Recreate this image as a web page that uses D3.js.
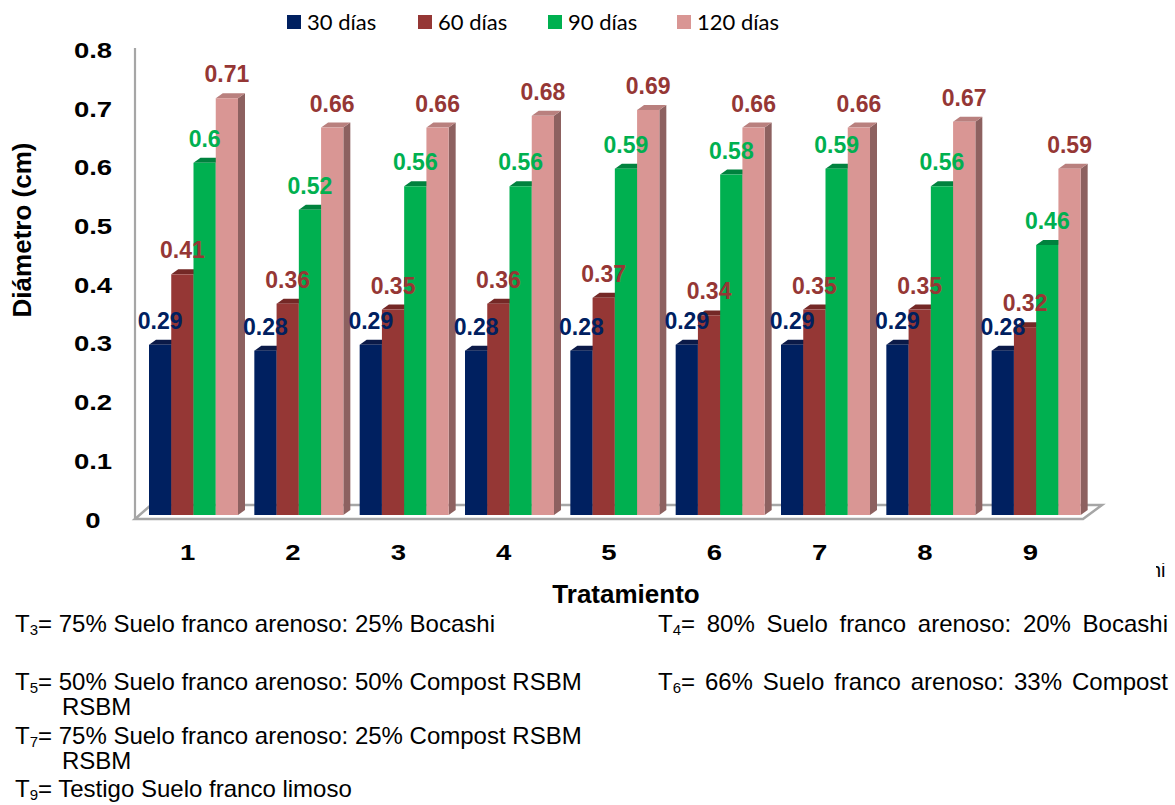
<!DOCTYPE html>
<html>
<head>
<meta charset="utf-8">
<script src="https://cdn.jsdelivr.net/npm/d3@7"></script>
<style>
  body { margin: 0; background: #ffffff; }
  svg { display: block; }
</style>
</head>
<body>
<svg id="chart" width="1175" height="805"></svg>
<script>
// Diámetro por tratamiento y fecha de muestreo
const categories = ["1", "2", "3", "4", "5", "6", "7", "8", "9"];
const seriesNames = ["30 días", "60 días", "90 días", "120 días"];
const dias30  = [0.29, 0.28, 0.29, 0.28, 0.28, 0.29, 0.29, 0.29, 0.28];
const dias60  = [0.41, 0.36, 0.35, 0.36, 0.37, 0.34, 0.35, 0.35, 0.32];
const dias90  = [0.60, 0.52, 0.56, 0.56, 0.59, 0.58, 0.59, 0.56, 0.46];
const dias120 = [0.71, 0.66, 0.66, 0.68, 0.69, 0.66, 0.66, 0.67, 0.59];
const yTicks  = [0, 0.1, 0.2, 0.3, 0.4, 0.5, 0.6, 0.7, 0.8];

// Notas de los tratamientos
const notesLeft = [
  { sub: "3", text: "= 75% Suelo franco arenoso: 25% Bocashi" },
  { sub: "5", text: "= 50% Suelo franco arenoso: 50% Compost RSBM" },
  { sub: null, text: "RSBM" },
  { sub: "7", text: "= 75% Suelo franco arenoso: 25% Compost RSBM" },
  { sub: null, text: "RSBM" },
  { sub: "9", text: "= Testigo Suelo franco limoso" }
];
const notesRight = [
  { sub: "4", text: "= 80% Suelo franco arenoso: 20% Bocashi" },
  { sub: "6", text: "= 66% Suelo franco arenoso: 33% Compost" }
];

const seriesValues = [dias30, dias60, dias90, dias120];
const frontColors = ["#002060", "#953735", "#00b050", "#d99694"];
const topColors   = ["#0b1a48", "#742826", "#00823e", "#b9807e"];
const sideColors  = ["#001240", "#6a2220", "#00763a", "#8d6160"];
const labelColors = ["#002060", "#953735", "#00b050", "#953735"];

const svg = d3.select("#chart");
svg.append("rect").attr("width", 1175).attr("height", 805).attr("fill", "#ffffff");

// Scales
const plotLeft = 135, plotRight = 1083;
const x = d3.scaleBand().domain(categories).range([plotLeft, plotRight]).padding(0);
const xs = d3.scaleBand().domain(seriesNames).range([14, 103]).padding(0);
const y = d3.scaleLinear().domain([0, 0.8]).range([515, 45.4]);

const depthX = 7, depthY = 5;
const floorDX = 16, floorDY = 14;
const floorFront = 519;

// Floor (3D base) and left wall edge
const gray = "#a6a6a6";
svg.append("path")
  .attr("d", `M${plotLeft},${floorFront} L${plotLeft + floorDX},${floorFront - floorDY} ` +
             `L${plotRight + floorDX + 3},${floorFront - floorDY} L${plotRight},${floorFront} Z`)
  .attr("fill", "#ffffff").attr("stroke", gray).attr("stroke-width", 2.5)
  .attr("stroke-linejoin", "miter");
svg.append("line")
  .attr("x1", plotLeft).attr("x2", plotLeft)
  .attr("y1", y(0.8) + 2.6).attr("y2", floorFront)
  .attr("stroke", gray).attr("stroke-width", 2.2);

// Bars with top and side faces
const bars = svg.append("g");
categories.forEach((c, ci) => {
  seriesNames.forEach((s, si) => {
    const v = seriesValues[si][ci];
    const x0 = x(c) + xs(s);
    const x1 = x0 + xs.bandwidth();
    const yt = y(v), yb = y(0);
    const g = bars.append("g");
    g.append("path")
      .attr("d", `M${x1},${yt} L${x1 + depthX},${yt - depthY} L${x1 + depthX},${yb - depthY} L${x1},${yb} Z`)
      .attr("fill", sideColors[si]);
    g.append("path")
      .attr("d", `M${x0},${yt} L${x0 + depthX},${yt - depthY} L${x1 + depthX},${yt - depthY} L${x1},${yt} Z`)
      .attr("fill", topColors[si]);
    g.append("rect")
      .attr("x", x0).attr("y", yt)
      .attr("width", xs.bandwidth()).attr("height", yb - yt)
      .attr("fill", frontColors[si]);
  });
});

// Value labels
const labels = svg.append("g")
  .attr("font-family", "'Liberation Sans', Arial, sans-serif")
  .attr("font-weight", "bold").attr("font-size", 23)
  .attr("text-anchor", "middle");
categories.forEach((c, ci) => {
  seriesNames.forEach((s, si) => {
    const v = seriesValues[si][ci];
    labels.append("text")
      .attr("x", x(c) + xs(s) + xs.bandwidth() / 2)
      .attr("y", y(v) - 16)
      .attr("fill", labelColors[si])
      .text(d3.format("")(+v.toFixed(2)));
  });
});

// Y axis
const yAxis = svg.append("g")
  .attr("transform", "translate(93,0)")
  .call(d3.axisLeft(y).tickValues(yTicks).tickSize(0).tickPadding(0)
    .tickFormat(d => d === 0 ? "0" : d3.format(".1f")(d)));
yAxis.select(".domain").remove();
yAxis.selectAll("text")
  .attr("x", 0).attr("dy", null).attr("y", 12)
  .attr("text-anchor", "middle")
  .attr("transform", "scale(1.25,1)")
  .attr("font-family", "'Liberation Sans', Arial, sans-serif")
  .attr("font-weight", "bold").attr("font-size", 22).attr("fill", "#000");

// X axis
const xAxis = svg.append("g")
  .attr("transform", "translate(0,552)")
  .call(d3.axisBottom(x).tickSize(0).tickPadding(0));
xAxis.select(".domain").remove();
xAxis.selectAll("text")
  .attr("y", 0).attr("dy", "0.36em")
  .attr("transform", "scale(1.25,1)")
  .attr("font-family", "'Liberation Sans', Arial, sans-serif")
  .attr("font-weight", "bold").attr("font-size", 22).attr("fill", "#000");
xAxis.selectAll(".tick").each(function () {
  const t = d3.select(this);
  const tx = +t.attr("transform").match(/translate\(([-\d.]+)/)[1];
  t.attr("transform", `translate(${tx},0)`);
  t.select("text").attr("x", 0);
});

// Axis titles
svg.append("text")
  .attr("x", 626).attr("y", 603)
  .attr("text-anchor", "middle")
  .attr("font-family", "'Liberation Sans', Arial, sans-serif")
  .attr("font-weight", "bold").attr("font-size", 26)
  .text("Tratamiento");
svg.append("text")
  .attr("transform", "translate(31,230) rotate(-90)")
  .attr("text-anchor", "middle")
  .attr("font-family", "'Liberation Sans', Arial, sans-serif")
  .attr("font-weight", "bold").attr("font-size", 26)
  .text("Diámetro (cm)");

// Legend
const legendX = [287, 418, 548, 677];
const legend = svg.append("g")
  .attr("font-family", "Lato, 'Open Sans', sans-serif").attr("font-size", 22);
seriesNames.forEach((s, si) => {
  legend.append("rect")
    .attr("x", legendX[si]).attr("y", 15).attr("width", 14).attr("height", 14)
    .attr("fill", frontColors[si]);
  legend.append("text")
    .attr("x", legendX[si] + 20).attr("y", 30)
    .attr("fill", "#000").text(s);
});

// Notes below the chart
const noteFont = "'Liberation Sans', Arial, sans-serif";
function noteLine(x0, yb, note) {
  const t = svg.append("text")
    .attr("x", x0).attr("y", yb)
    .attr("font-family", noteFont).attr("font-size", 24).attr("fill", "#000");
  if (note.sub) {
    t.append("tspan").text("T");
    t.append("tspan").attr("font-size", 15).attr("dy", 3).text(note.sub);
    t.append("tspan").attr("dy", -3).text(note.text);
  } else {
    t.text(note.text);
  }
  return t;
}
const leftX = [15, 15, 62, 15, 62, 15];
const leftY = [632, 690, 715, 744, 769, 797];
notesLeft.forEach((n, i) => noteLine(leftX[i], leftY[i], n));

const rightY = [632, 690];
notesRight.forEach((n, i) => {
  const t = noteLine(658, rightY[i], n);
  const natural = t.node().getComputedTextLength();
  const spaces = (n.text.match(/ /g) || []).length;
  t.attr("word-spacing", (1168 - 658 - natural) / spaces);
});

// Clipped fragment at right margin
svg.append("clipPath").attr("id", "frag")
  .append("rect").attr("x", 1156).attr("y", 563).attr("width", 19).attr("height", 20);
svg.append("text")
  .attr("x", 1150).attr("y", 577)
  .attr("clip-path", "url(#frag)")
  .attr("font-family", noteFont).attr("font-size", 20).attr("fill", "#000")
  .text("hi");
</script>
</body>
</html>
